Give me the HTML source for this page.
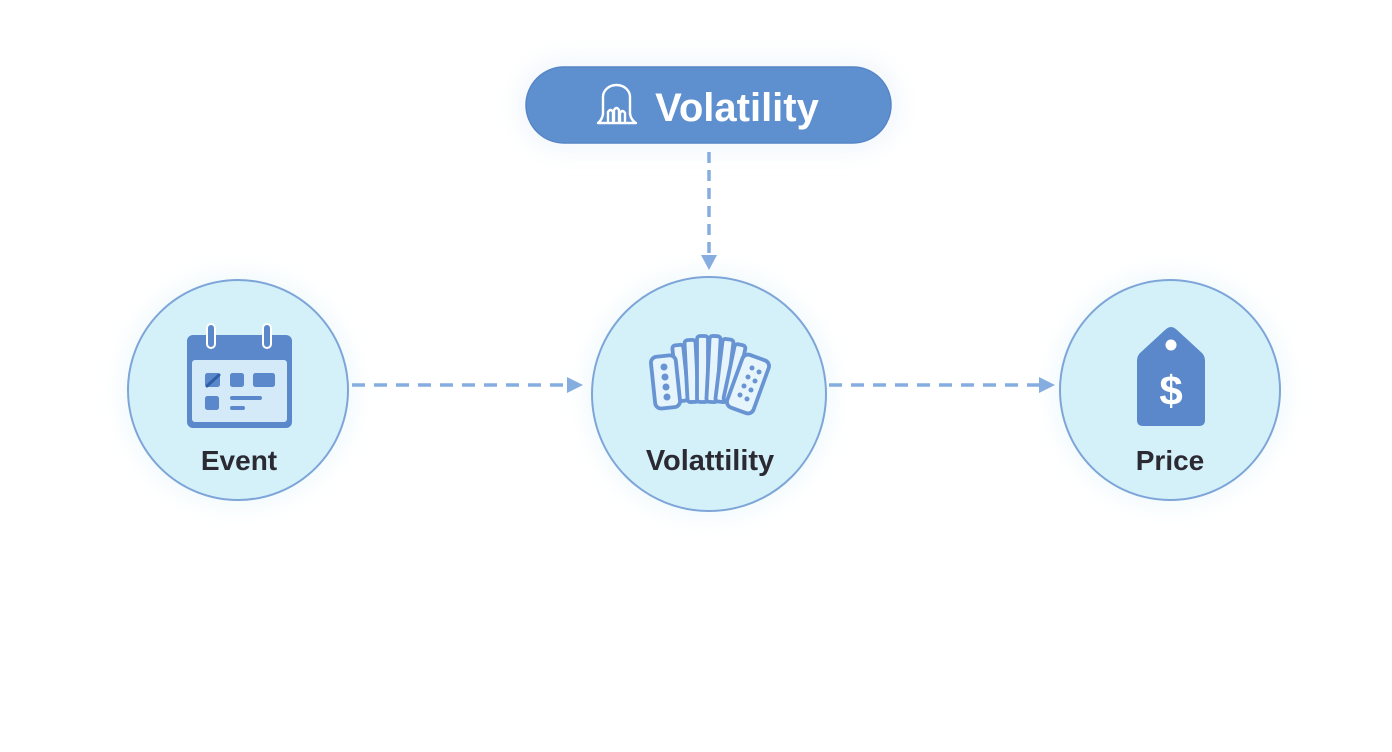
<!DOCTYPE html>
<html>
<head>
<meta charset="utf-8">
<style>
  html,body{margin:0;padding:0;background:#ffffff;}
  body{width:1392px;height:752px;overflow:hidden;position:relative;font-family:"Liberation Sans",sans-serif;}
  svg{position:absolute;left:0;top:0;}
</style>
</head>
<body>
<svg width="1392" height="752" viewBox="0 0 1392 752" xmlns="http://www.w3.org/2000/svg">
  <defs>
    <filter id="glow" x="-30%" y="-30%" width="160%" height="160%">
      <feGaussianBlur stdDeviation="10"/>
    </filter>
  </defs>

  <!-- soft glows -->
  <rect x="516" y="57" width="385" height="96" rx="48" fill="#eef4fb" filter="url(#glow)" opacity="0.7"/>
  <circle cx="238" cy="390" r="118" fill="#eef8fc" filter="url(#glow)" opacity="0.8"/>
  <circle cx="709" cy="394" r="125" fill="#eef8fc" filter="url(#glow)" opacity="0.8"/>
  <circle cx="1170" cy="390" r="118" fill="#eef8fc" filter="url(#glow)" opacity="0.8"/>

  <!-- top pill -->
  <rect x="526" y="67" width="365" height="76" rx="38" fill="#5e8fcf" stroke="#5585c6" stroke-width="1.5"/>
  <!-- pill icon -->
  <g fill="none" stroke="#ffffff" stroke-width="2.4" stroke-linecap="round" stroke-linejoin="round">
    <path d="M603,114 L603,97 A13.5,12 0 0 1 630,97 L630,114"/>
    <path d="M603,114 Q602,120 598,123 L636,123 Q631,120 630,114"/>
    <path d="M608,121 L608,112 Q610.5,108 613,112 L613,121"/>
    <path d="M614,121 L614,110 Q616.5,106 619,110 L619,121"/>
    <path d="M620,121 L620,113 Q622.5,109 625,113 L625,121"/>
  </g>
  <text x="737" y="121" text-anchor="middle" font-family="Liberation Sans, sans-serif" font-weight="bold" font-size="40" fill="#ffffff">Volatility</text>

  <!-- vertical dashed connector -->
  <line x1="709" y1="152" x2="709" y2="258" stroke="#86addf" stroke-width="3.5" stroke-dasharray="11,7"/>
  <path d="M701,255 L717,255 L709,270 Z" fill="#86addf"/>

  <!-- horizontal connectors -->
  <line x1="352" y1="385" x2="570" y2="385" stroke="#86addf" stroke-width="3.5" stroke-dasharray="13,9"/>
  <path d="M567,377 L583,385 L567,393 Z" fill="#86addf"/>
  <line x1="829" y1="385" x2="1041" y2="385" stroke="#86addf" stroke-width="3.5" stroke-dasharray="13,9"/>
  <path d="M1039,377 L1055,385 L1039,393 Z" fill="#86addf"/>

  <!-- circles -->
  <circle cx="238" cy="390" r="110" fill="#d4f1fa" stroke="#7ea5d8" stroke-width="2"/>
  <circle cx="709" cy="394" r="117" fill="#d4f1fa" stroke="#7ea5d8" stroke-width="2"/>
  <circle cx="1170" cy="390" r="110" fill="#d4f1fa" stroke="#7ea5d8" stroke-width="2"/>

  <!-- calendar icon -->
  <rect x="187" y="335" width="105" height="93" rx="6" fill="#5a88cb"/>
  <rect x="192" y="360" width="95" height="62" rx="3" fill="#d4eaf8"/>
  <rect x="207" y="324" width="8" height="24" rx="4" fill="#5a88cb" stroke="#ffffff" stroke-width="2"/>
  <rect x="263" y="324" width="8" height="24" rx="4" fill="#5a88cb" stroke="#ffffff" stroke-width="2"/>
  <rect x="205" y="373" width="15" height="14" rx="2.5" fill="#5a88cb"/>
  <path d="M207,386 L219,375" stroke="#2f5ea6" stroke-width="3" stroke-linecap="round"/>
  <rect x="230" y="373" width="14" height="14" rx="2.5" fill="#5a88cb"/>
  <rect x="253" y="373" width="22" height="14" rx="2.5" fill="#5a88cb"/>
  <rect x="205" y="396" width="14" height="14" rx="2.5" fill="#5a88cb"/>
  <rect x="230" y="396" width="32" height="4" rx="2" fill="#5a88cb"/>
  <rect x="230" y="406" width="15" height="4" rx="2" fill="#5a88cb"/>

  <!-- accordion icon -->
  <g stroke="#6894d3" stroke-width="3.8" stroke-linejoin="round" stroke-linecap="round" fill="#e6f4fb">
    <!-- slats -->
    <rect x="675" y="345" width="11" height="56" rx="3" transform="rotate(-6 680 373)"/>
    <rect x="686" y="340" width="11" height="62" rx="3" transform="rotate(-3 691 371)"/>
    <rect x="697" y="336" width="11" height="66" rx="3"/>
    <rect x="708" y="336" width="11" height="66" rx="3" transform="rotate(3 713 369)"/>
    <rect x="719" y="339" width="11" height="63" rx="3" transform="rotate(7 724 370)"/>
    <rect x="729" y="344" width="11" height="58" rx="3" transform="rotate(12 734 373)"/>
    <!-- left box -->
    <rect x="653" y="356" width="25" height="52" rx="6" transform="rotate(-6 665 382)"/>
    <!-- right box -->
    <rect x="734" y="356" width="28" height="56" rx="6" transform="rotate(20 748 384)"/>
  </g>
  <g fill="#6894d3">
    <circle cx="664" cy="367" r="3.5"/>
    <circle cx="665" cy="377" r="3.5"/>
    <circle cx="666" cy="387" r="3.5"/>
    <circle cx="667" cy="397" r="3.5"/>
    <circle cx="752" cy="368" r="2.5"/><circle cx="759" cy="372" r="2.5"/>
    <circle cx="748" cy="377" r="2.5"/><circle cx="755" cy="381" r="2.5"/>
    <circle cx="744" cy="386" r="2.5"/><circle cx="751" cy="390" r="2.5"/>
    <circle cx="740" cy="395" r="2.5"/><circle cx="747" cy="399" r="2.5"/>
  </g>

  <!-- price tag icon -->
  <path d="M1171,327 Q1168,327 1165,330 L1140,353 Q1137,356 1137,361 L1137,420 Q1137,426 1143,426 L1199,426 Q1205,426 1205,420 L1205,361 Q1205,356 1202,353 L1177,330 Q1174,327 1171,327 Z" fill="#5a88cb"/>
  <circle cx="1171" cy="345" r="5.5" fill="#ffffff"/>
  <text x="1171" y="405" text-anchor="middle" font-family="Liberation Sans, sans-serif" font-weight="bold" font-size="42" fill="#ffffff">$</text>

  <!-- labels -->
  <text x="239" y="470" text-anchor="middle" font-family="Liberation Sans, sans-serif" font-weight="bold" font-size="28" fill="#2b2a33">Event</text>
  <text x="710" y="470" text-anchor="middle" font-family="Liberation Sans, sans-serif" font-weight="bold" font-size="29" fill="#2b2a33">Volattility</text>
  <text x="1170" y="470" text-anchor="middle" font-family="Liberation Sans, sans-serif" font-weight="bold" font-size="28" fill="#2b2a33">Price</text>
</svg>
</body>
</html>
